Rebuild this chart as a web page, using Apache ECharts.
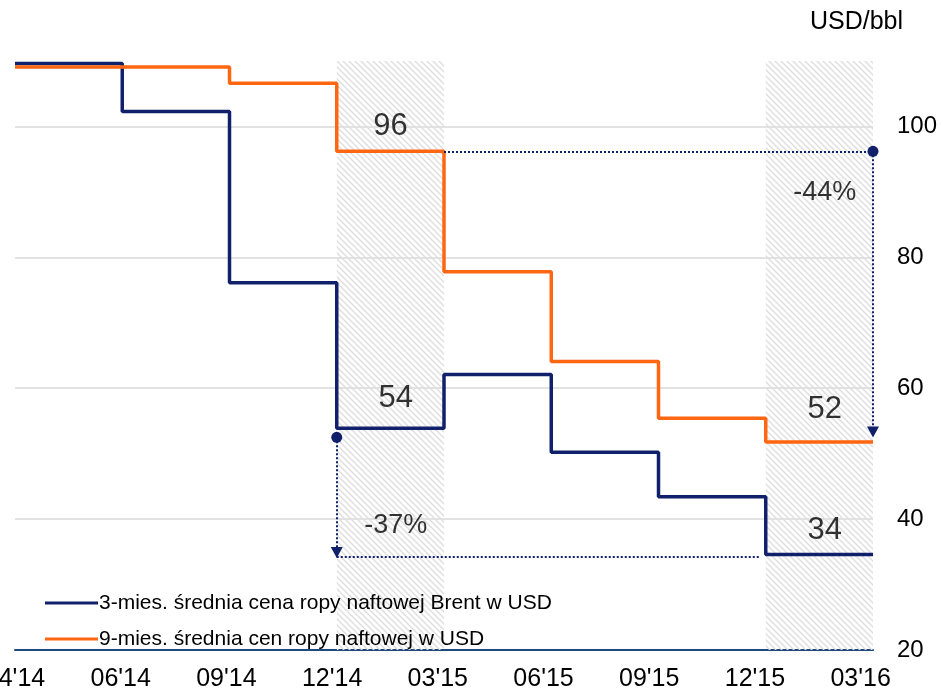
<!DOCTYPE html>
<html><head><meta charset="utf-8">
<script src="https://cdn.jsdelivr.net/npm/echarts@6/dist/echarts.min.js"></script>
<style>html,body{margin:0;padding:0;background:#fff}#c{width:943px;height:693px}</style>
</head><body><div id="c"></div>
<script>
// ---- data ----
const tickLabels = ["04'14","06'14","09'14","12'14","03'15","06'15","09'15","12'15","03'16"];
const quarterIdx = [0,1,2,3,4,5,6,7,8];
const brent3m = [109.6,102.3,76.1,53.9,62.1,50.2,43.4,34.6,34.6];
const oil9m   = [109.1,109.1,106.6,96.2,77.8,64.1,55.4,51.8,51.8];
const yTickValues = [20,40,60,80,100];
const shadedFrom = [3,7];
const shadedTo   = [4,8];
const seriesNames = ['3-mies. średnia cena ropy naftowej Brent w USD','9-mies. średnia cen ropy naftowej w USD'];
const noteTexts = ['96','54','52','34','-44%','-37%'];
const noteX = [3.5,3.55,7.55,7.55,7.55,3.55];
const noteY = [100,58.4,56.7,38.3,89.9,39.0];
// annotation arrows (data units)
const drop1 = {fromX:4, atX:8, from:96.2, to:53.3};
const drop2 = {atX:3, from:52.5, to:34.9, lineY:34.2, lineTo:6.95};

const NAVY = '#10206b', ORANGE = '#ff6611', AXIS = '#1f497d';
const FONT = '"Liberation Sans", Arial, sans-serif';

// hatch pattern
const pc = document.createElement('canvas'); pc.width = 6; pc.height = 6;
const g = pc.getContext('2d');
g.strokeStyle = '#dedede'; g.lineWidth = 1.4;
g.beginPath();
g.moveTo(-1,-1); g.lineTo(7,7);
g.moveTo(-1,5); g.lineTo(1,7);
g.moveTo(5,-1); g.lineTo(7,1);
g.stroke();

const chart = echarts.init(document.getElementById('c'), null, {renderer:'canvas'});
const yMin = yTickValues[0], yMax = 110;
const splitColors = [];
for (let i = 0; i < yTickValues.length; i++) splitColors.push(i === 0 ? 'rgba(0,0,0,0)' : '#d9d9d9');
splitColors.push('rgba(0,0,0,0)');

const option = {
  animation: false,
  textStyle: {fontFamily: FONT},
  grid: {left: 15, right: 70, top: 61, bottom: 43, containLabel: false, outerBoundsMode: 'none'},
  legend: {
    orient: 'vertical', left: 40, top: 586, itemWidth: 53, itemHeight: 3, itemGap: 12,
    icon: 'rect', data: seriesNames,
    textStyle: {fontSize: 21, lineHeight: 24, color: '#000', fontFamily: FONT, padding: [0,0,0,-4]}
  },
  graphic: [{type:'text', right: 40, top: 10, style:{text:'USD/bbl', font:'25px ' + FONT, fill:'#000'}}],
  xAxis: [
    {type:'value', min:0, max:8.117, interval:1, position:'bottom',
     axisLine:{show:true, lineStyle:{color:AXIS, width:2}}, axisTick:{show:false}, splitLine:{show:false},
     axisLabel:{color:'#000', fontSize:25, margin:17, showMaxLabel:true,
       formatter: v => Number.isInteger(v) && tickLabels[v] !== undefined ? tickLabels[v] : ''}},
    {type:'value', min:0, max:8, interval:1, show:false}
  ],
  yAxis: [{type:'value', position:'right', min:yMin, max:yMax, interval:20,
    axisLine:{show:false}, axisTick:{show:false},
    axisLabel:{color:'#000', fontSize:24, margin:24, showMaxLabel:false,
      formatter: v => yTickValues.indexOf(v) >= 0 ? String(v) : ''},
    splitLine:{show:true, lineStyle:{color:splitColors, width:1.5}}}],
  series: [
    {name:'hatch', type:'line', xAxisIndex:1, data:[], z:1, silent:true,
     markArea:{silent:true, itemStyle:{color:{image:pc, repeat:'repeat'}},
       data: shadedFrom.map((a,i)=>[{xAxis:a},{xAxis:shadedTo[i]}])}},
    {name:seriesNames[0], type:'line', xAxisIndex:1, step:'end', showSymbol:false, z:3,
     data: quarterIdx.map((x,i)=>[x, brent3m[i]]),
     lineStyle:{color:NAVY, width:3.5}, itemStyle:{color:NAVY}},
    {name:seriesNames[1], type:'line', xAxisIndex:1, step:'end', showSymbol:false, z:4,
     data: quarterIdx.map((x,i)=>[x, oil9m[i]]),
     lineStyle:{color:ORANGE, width:3.5}, itemStyle:{color:ORANGE}},
    {name:'arrows', type:'line', xAxisIndex:1, data:[], z:5,
     markLine:{silent:true, symbol:['none','none'], label:{show:false},
       lineStyle:{color:NAVY, width:2, type:[2,2]},
       data:[
         [{coord:[drop1.fromX, drop1.from]},{coord:[drop1.atX, drop1.from]}],
         [{coord:[drop1.atX, drop1.from], symbol:'circle', symbolSize:11},
          {coord:[drop1.atX, drop1.to], symbol:'triangle', symbolSize:[12,11]}],
         [{coord:[drop2.atX, drop2.from], symbol:'circle', symbolSize:11},
          {coord:[drop2.atX, drop2.to], symbol:'triangle', symbolSize:[12,11]}],
         [{coord:[drop2.atX, drop2.lineY]},{coord:[drop2.lineTo, drop2.lineY]}]
       ]}},
    {name:'notes', type:'scatter', xAxisIndex:1, z:6, symbolSize:1, silent:true,
     itemStyle:{color:'rgba(0,0,0,0)'},
     data: noteTexts.map((t,i)=>({name:t, value:[noteX[i], noteY[i]],
       label:{fontSize: t.indexOf('%')>=0 ? 27 : 31, color:'#000'}})),
     label:{show:true, position:'inside', formatter:'{b}', color:'#000', textBorderWidth:0, fontFamily:FONT}}
  ]
};
chart.setOption(option);
</script></body></html>
